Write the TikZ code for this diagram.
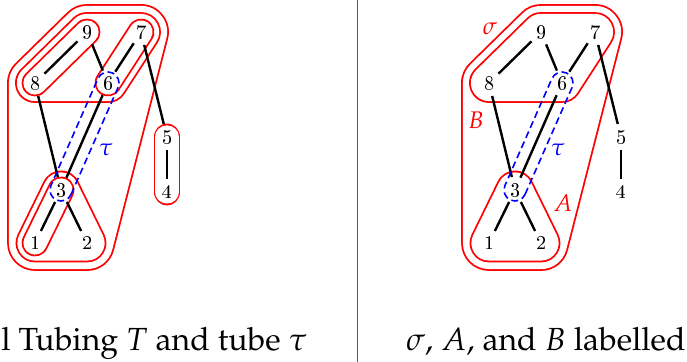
\documentclass[tikz,border=0pt]{standalone}
\usepackage[T1]{fontenc}
\usepackage{mathpazo}
\renewcommand{\rmdefault}{cmr}
\usetikzlibrary{calc, backgrounds}
\definecolor{tubered}{RGB}{255,0,0}
\definecolor{tubeblue}{RGB}{0,0,255}
\definecolor{divgray}{RGB}{90,90,90}
\tikzset{
  vtx/.style={circle, inner sep=1pt, minimum size=13pt, font=\normalsize},
  edge/.style={line width=1.2pt, color=black},
  tubeout/.style={draw=tubered, fill=tubered, line join=round, line cap=round, line width=#1pt+0.9pt},
  tubein/.style={draw=white, fill=white, line join=round, line cap=round, line width=#1pt-0.9pt},
  taudash/.style={draw=tubeblue, line width=0.8pt, dash pattern=on 3.5pt off 2pt},
  redlabel/.style={font=\large, text=tubered, inner sep=0pt},
  bluelabel/.style={font=\large, text=tubeblue, inner sep=0pt},
  caption/.style={font=\fontencoding{T1}\fontfamily{ppl}\fontsize{16}{19}\selectfont, inner sep=0pt}
}
\newcommand{\tube}[2]{\draw[tubeout=#1] #2; \draw[tubein=#1] #2;}

\begin{document}
\begin{tikzpicture}[x=0.5pt, y=-0.5pt]
  \useasboundingbox (0,0) rectangle (687,362);

  % vertices, left and right copy
  \foreach \n/\x/\y in {1/35/243, 2/87/243, 3/61/190, 4/167/192, 5/167/137,
                        6/108/83, 7/141/32, 8/35/83, 9/87/32}{
    \node[vtx] (L\n) at (\x,\y) {\n};
    \node[vtx] (R\n) at (\x+454,\y) {\n};
  }
  \foreach \a/\b in {9/8, 9/6, 7/6, 7/5, 5/4, 8/3, 6/3, 3/1, 3/2}{
    \draw[edge] (L\a) -- (L\b);
    \draw[edge] (R\a) -- (R\b);
  }

  % tubes, outer first
  \begin{pgfonlayer}{background}
    \tube{27}{(L1.center) -- (L2.center) -- (L7.center) -- (L9.center) -- (L8.center) -- cycle}
    \tube{19}{(L8.center) -- (L9.center) -- (L7.center) -- (L6.center) -- cycle}
    \tube{18.5}{(L1.center) -- (L2.center) -- (L3.center) -- cycle}
    \tube{12.5}{(L8.center) -- (L9.center)}
    \tube{12.5}{(L6.center) -- (L7.center)}
    \tube{12.5}{(L1.center) -- (L3.center)}
    \tube{12.5}{(L4.center) -- (L5.center)}
    \tube{27}{(R1.center) -- (R2.center) -- (R7.center) -- (R9.center) -- (R8.center) -- cycle}
    \tube{19}{(R8.center) -- (R9.center) -- (R7.center) -- (R6.center) -- cycle}
    \tube{18.5}{(R1.center) -- (R2.center) -- (R3.center) -- cycle}
  \end{pgfonlayer}

  % tube tau
  \foreach \s in {L,R}{
    \draw[taudash] let \p1=($(\s6)-(\s3)$), \n1={atan2(\y1,\x1)} in
      ($(\s3)+(\n1-90:5.5pt)$) -- ($(\s6)+(\n1-90:5.5pt)$)
      arc[start angle=\n1-90, delta angle=180, radius=5.5pt]
      -- ($(\s3)+(\n1+90:5.5pt)$)
      arc[start angle=\n1+90, delta angle=180, radius=5.5pt] -- cycle;
  }

  \node[bluelabel] (tauL) at (106,150) {$\tau$};
  \node[bluelabel] (tauR) at (558,150) {$\tau$};
  \node[redlabel] (sigma) at (490,29) {$\sigma$};
  \node[redlabel] (labB) at (476,120) {$B$};
  \node[redlabel] (labA) at (563,203) {$A$};

  \draw[divgray, line width=0.5pt] (357,0) -- (357,362);

  \node[caption, anchor=base west] (capL) at (1,351) {l Tubing $T$ and tube $\tau$};
  \node[caption, anchor=base east] (capR) at (686,351) {$\sigma$, $A$, and $B$ labelled};
\end{tikzpicture}
\end{document}
